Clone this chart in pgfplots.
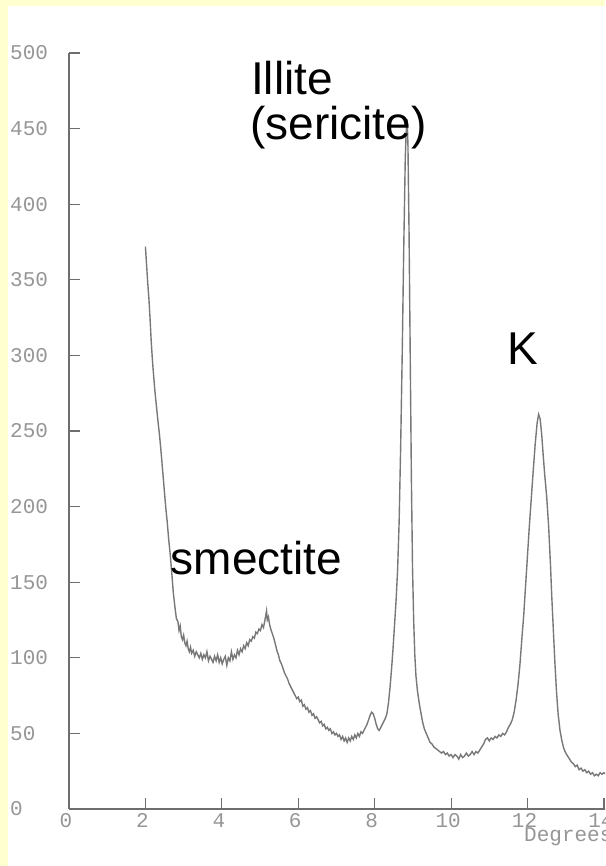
\documentclass[border=0pt]{standalone}
\usepackage{pgfplots}
\pgfplotsset{compat=1.18}
\usepackage{fontspec}
\setmainfont{Liberation Sans}
\newfontfamily\tickfont{Liberation Mono}
\definecolor{bgy}{RGB}{255,255,208}
\definecolor{axc}{RGB}{110,110,110}
\definecolor{crv}{RGB}{120,120,120}
\definecolor{tkc}{RGB}{150,150,150}
\pgfplotstableread{
x y
2.00 372
2.03 360
2.06 348
2.09 338
2.12 325
2.15 310
2.18 298
2.21 288
2.25 276
2.29 266
2.33 256
2.37 247
2.41 236
2.45 224
2.49 212
2.53 200
2.57 190
2.61 178
2.65 168
2.69 156
2.73 143
2.77 134
2.81 126
2.85 124
2.88 118
2.91 121
2.94 114
2.97 112
3.00 115
3.03 110
3.06 108
3.09 111
3.12 106
3.15 104
3.18 107
3.21 103
3.25 105
3.29 101
3.33 104
3.37 102
3.41 100
3.45 103
3.49 99
3.53 102
3.57 100
3.61 104
3.65 98
3.69 101
3.73 99
3.77 97
3.81 101
3.85 98
3.89 102
3.93 97
3.97 100
4.01 96
4.05 99
4.09 101
4.13 95
4.17 100
4.21 98
4.25 104
4.29 99
4.33 102
4.37 100
4.41 105
4.45 102
4.49 106
4.53 104
4.57 108
4.61 106
4.65 110
4.69 108
4.73 112
4.77 111
4.81 114
4.85 113
4.89 117
4.93 116
4.97 119
5.01 118
5.05 122
5.09 120
5.12 124
5.15 128
5.17 131
5.19 125
5.22 127
5.25 122
5.28 119
5.32 116
5.36 113
5.39 110
5.42 107
5.45 104
5.48 102
5.52 98
5.56 96
5.60 93
5.64 90
5.68 88
5.72 86
5.76 83
5.80 81
5.84 79
5.88 77
5.92 75
5.96 73
6.00 74
6.04 71
6.08 72
6.12 68
6.16 69
6.20 66
6.24 67
6.28 64
6.32 65
6.36 62
6.40 63
6.44 60
6.48 61
6.52 59
6.56 57
6.60 58
6.64 55
6.68 56
6.72 53
6.76 54
6.80 52
6.84 53
6.88 50
6.92 51
6.96 49
7.00 50
7.04 48
7.08 49
7.12 46
7.16 48
7.20 45
7.24 47
7.28 44
7.32 47
7.36 45
7.40 48
7.44 46
7.48 49
7.52 47
7.56 50
7.60 48
7.64 51
7.68 50
7.72 52
7.76 54
7.80 56
7.84 59
7.88 62
7.92 64
7.96 63
8.00 60
8.04 56
8.08 53
8.12 52
8.16 54
8.20 56
8.24 58
8.28 60
8.32 63
8.36 70
8.40 80
8.44 92
8.48 106
8.52 122
8.56 138
8.60 158
8.64 190
8.68 240
8.72 300
8.76 370
8.80 430
8.83 452
8.85 456
8.87 440
8.90 380
8.93 300
8.96 220
8.99 160
9.02 125
9.05 102
9.08 88
9.12 78
9.16 71
9.20 65
9.25 58
9.30 53
9.35 50
9.40 47
9.45 44
9.50 43
9.55 41
9.60 40
9.65 39
9.70 38
9.75 37
9.80 38
9.85 36
9.90 37
9.95 35
10.00 36
10.05 34
10.10 36
10.15 35
10.20 33
10.25 36
10.30 34
10.35 35
10.40 37
10.45 35
10.50 36
10.55 38
10.60 36
10.65 38
10.70 37
10.75 39
10.80 41
10.85 43
10.90 46
10.95 47
11.00 45
11.05 47
11.10 46
11.15 48
11.20 47
11.25 49
11.30 48
11.35 50
11.40 49
11.45 51
11.50 54
11.55 56
11.60 59
11.65 64
11.70 72
11.75 82
11.80 95
11.85 112
11.90 128
11.95 148
12.00 168
12.05 188
12.10 206
12.15 224
12.20 241
12.25 255
12.29 261
12.33 258
12.37 248
12.41 234
12.45 221
12.50 207
12.55 188
12.60 162
12.63 143
12.68 116
12.72 95
12.76 77
12.80 63
12.85 52
12.90 45
12.95 40
13.00 37
13.05 35
13.10 33
13.15 31
13.20 30
13.25 28
13.30 29
13.35 26
13.40 27
13.45 25
13.50 26
13.55 24
13.60 25
13.65 23
13.70 24
13.75 22
13.80 23
13.85 22
13.90 24
13.95 23
14.00 24
14.05 23
14.10 24
}\xrd
\begin{document}
\begin{tikzpicture}
\useasboundingbox (0pt,0pt) rectangle (605pt,866pt);
\clip (0pt,0pt) rectangle (605pt,866pt);
\fill[bgy] (0pt,0pt) rectangle (605pt,866pt);
\fill[white] (8pt,0pt) rectangle (605pt,860pt);
\begin{axis}[
  at={(69pt,57pt)}, anchor=south west,
  x=38.21pt, y=1.512pt,
  xmin=0, xmax=15, ymin=0, ymax=500,
  axis x line=bottom, axis y line=left,
  axis line style={-, axc, line width=1.5pt},
  tick style={axc, line width=1.2pt},
  tick align=inside, major tick length=11pt,
  xtick={0,2,...,14}, ytick={0,50,...,500},
  minor tick num=0,
  /pgf/number format/assume math mode=true,
  ticklabel style={font=\tickfont\fontsize{21}{21}\selectfont, text=tkc, inner sep=0pt},
  yticklabel style={anchor=west, xshift=-59pt},
  xticklabel style={anchor=north, yshift=-4pt, xshift=-3pt},
]
\addplot[crv, line width=1.4pt, no marks] table[x=x, y=y] {\xrd};
\end{axis}
\node[anchor=base west, inner sep=0pt, font=\fontsize{46}{46}\selectfont] at (251pt,771pt) {Illite};
\node[anchor=base west, inner sep=0pt, font=\fontsize{46}{46}\selectfont] at (250pt,726pt) {(sericite)};
\node[anchor=base west, inner sep=0pt, font=\fontsize{46}{46}\selectfont] at (507pt,501pt) {K};
\node[anchor=base west, inner sep=0pt, font=\fontsize{46}{46}\selectfont] at (170.5pt,291pt) {smectite};
\node[anchor=base west, inner sep=0pt, text=tkc, font=\tickfont\fontsize{21}{21}\selectfont] at (524pt,24pt) {Degrees};
\end{tikzpicture}
\end{document}
